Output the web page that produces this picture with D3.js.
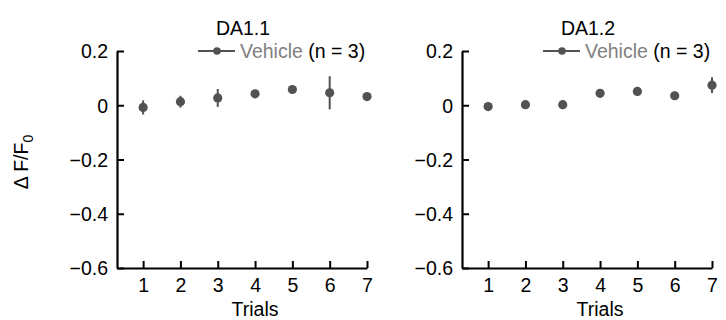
<!DOCTYPE html>
<html>
<head>
<meta charset="utf-8">
<script src="https://cdn.jsdelivr.net/npm/d3@7/dist/d3.min.js"></script>
<style>
  body { margin: 0; background: #fff; }
  svg { font-family: "Liberation Sans", Arial, sans-serif; }
</style>
</head>
<body>
<div id="main"></div>
<script>
// data
var trials = [1, 2, 3, 4, 5, 6, 7];
var titles = ['DA1.1', 'DA1.2'];
var meanDA11 = [-0.008, 0.013, 0.027, 0.042, 0.058, 0.046, 0.032];
var errDA11 = [0.026, 0.022, 0.033, 0.010, 0.012, 0.061, 0.008];
var meanDA12 = [-0.005, 0.002, 0.002, 0.044, 0.051, 0.035, 0.074];
var errDA12 = [0.006, 0.006, 0.006, 0.008, 0.008, 0.015, 0.029];
var yTicks = [0.2, 0, -0.2, -0.4, -0.6];
var legendName = 'Vehicle';
var legendN = ' (n = 3)';

var width = 726, height = 320;
var col = '#525252';
var fs = '19.5px';

var svg = d3.select('#main').append('svg')
  .attr('width', width)
  .attr('height', height);

// y label
svg.append('text')
  .attr('transform', 'translate(28,162) rotate(-90)')
  .attr('text-anchor', 'middle')
  .style('font-size', fs)
  .html('\u0394 F/F<tspan dy="5" font-size="14">0</tspan>');

var panels = [
  { left: 117, title: titles[0], mean: meanDA11, err: errDA11 },
  { left: 462, title: titles[1], mean: meanDA12, err: errDA12 }
];

var y = d3.scaleLinear().domain([-0.6, 0.2]).range([268, 51]);

panels.forEach(function(p) {
  var x = d3.scaleLinear().domain([0.3, 7]).range([p.left, p.left + 250]);
  var g = svg.append('g');

  var yAxis = g.append('g')
    .attr('transform', 'translate(' + p.left + ',0)')
    .call(d3.axisLeft(y).tickValues(yTicks).tickSize(-7).tickSizeOuter(0).tickPadding(9)
      .tickFormat(function(d) { return d === 0 ? '0' : d3.format('.1f')(d); }));

  var xAxis = g.append('g')
    .attr('transform', 'translate(0,268)')
    .call(d3.axisBottom(x).tickValues(trials).tickSize(-7).tickSizeOuter(0).tickPadding(9)
      .tickFormat(d3.format('d')));

  [yAxis, xAxis].forEach(function(a) {
    a.select('.domain').attr('stroke', '#000').attr('stroke-width', 2.2);
    a.selectAll('.tick line').attr('stroke', '#000').attr('stroke-width', 2);
    a.selectAll('.tick text').attr('fill', '#000').style('font-size', fs).attr('font-family', null);
  });
  yAxis.selectAll('.tick text').attr('dy', '0.35em');
  xAxis.selectAll('.tick text').attr('dy', '0.78em');

  // x label
  g.append('text')
    .attr('x', x(4)).attr('y', 316)
    .attr('text-anchor', 'middle')
    .style('font-size', fs)
    .text('Trials');

  // title
  g.append('text')
    .attr('x', p.left + 126).attr('y', 35)
    .attr('text-anchor', 'middle')
    .style('font-size', fs)
    .text(p.title);

  // legend
  var lx = p.left + 81;
  g.append('line')
    .attr('x1', lx).attr('x2', lx + 37)
    .attr('y1', 51).attr('y2', 51)
    .attr('stroke', col).attr('stroke-width', 2);
  g.append('circle')
    .attr('cx', lx + 19).attr('cy', 51).attr('r', 3.8)
    .attr('fill', col);
  var lt = g.append('text')
    .attr('x', lx + 42).attr('y', 58)
    .style('font-size', fs);
  lt.append('tspan').attr('fill', '#808080').text(legendName);
  lt.append('tspan').attr('fill', '#000').text(legendN);

  // points
  var pts = trials.map(function(t, i) { return { t: t, m: p.mean[i], e: p.err[i] }; });

  g.selectAll('line.err').data(pts).enter().append('line')
    .attr('class', 'err')
    .attr('x1', function(d) { return x(d.t); })
    .attr('x2', function(d) { return x(d.t); })
    .attr('y1', function(d) { return y(d.m - d.e); })
    .attr('y2', function(d) { return y(d.m + d.e); })
    .attr('stroke', col).attr('stroke-width', 2);

  g.selectAll('circle.pt').data(pts).enter().append('circle')
    .attr('class', 'pt')
    .attr('cx', function(d) { return x(d.t); })
    .attr('cy', function(d) { return y(d.m); })
    .attr('r', 4.6)
    .attr('fill', col);
});
</script>
</body>
</html>
